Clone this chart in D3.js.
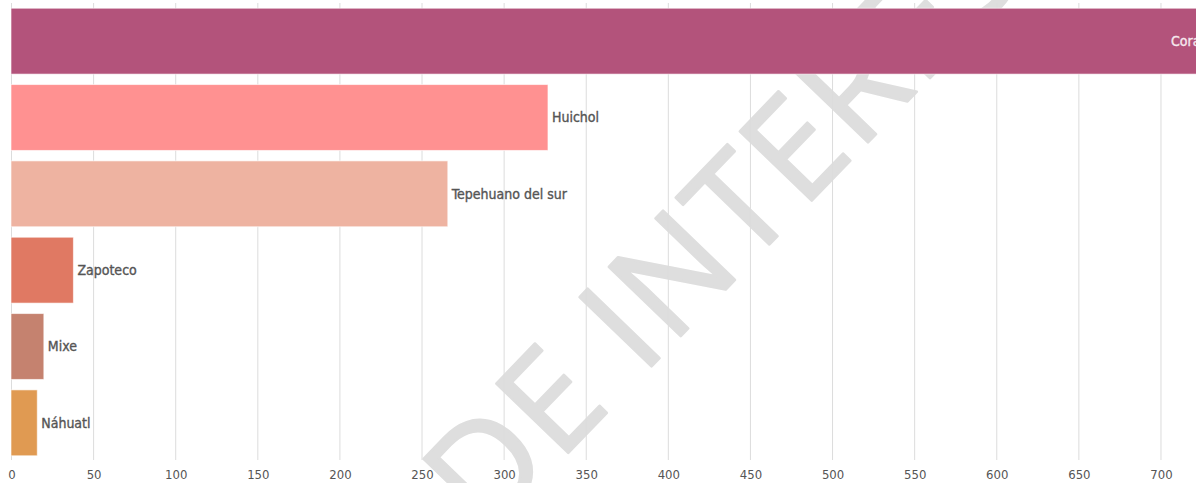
<!DOCTYPE html>
<html>
<head>
<meta charset="utf-8">
<script src="https://cdn.jsdelivr.net/npm/d3@7/dist/d3.min.js"></script>
<style>
  html, body { margin: 0; padding: 0; background: #ffffff; overflow: hidden; }
  svg { display: block; }
</style>
</head>
<body>
<svg id="chart" width="1196" height="483"></svg>
<script>
// ---- data ----
const categories = ["Cora", "Huichol", "Tepehuano del sur", "Zapoteco", "Mixe", "Náhuatl"];
const values = [728, 327, 266, 38, 20, 16];
const barColors = ["#b3537b", "#ff9191", "#eeb3a1", "#e07963", "#c5826f", "#e09a52"];
const tickValues = [0, 50, 100, 150, 200, 250, 300, 350, 400, 450, 500, 550, 600, 650, 700, 750];
const watermarkText = "DE INTERÉS";

// ---- layout ----
const W = 1196, H = 483;
const plot = { left: 11, top: 3, bottom: 461 };
const svg = d3.select("#chart");

const x = d3.scaleLinear().domain([0, 750]).range([plot.left, plot.left + 750 * 1.6421]);
const y = d3.scaleBand().domain(categories).range([plot.top, plot.bottom])
  .paddingInner(0.137).paddingOuter(0.0685);

const font = "'DejaVu Sans Condensed', 'Liberation Sans Narrow', sans-serif";

// watermark (behind everything)
svg.append("text")
  .attr("transform", "translate(486,538) rotate(-46)")
  .attr("font-family", "'Open Sans', 'DejaVu Sans', sans-serif")
  .attr("font-weight", 400)
  .attr("font-size", 140)
  .attr("letter-spacing", 3)
  .attr("fill", "#dedede")
  .attr("stroke", "#dedede")
  .attr("stroke-width", 2.5)
  .attr("stroke-linejoin", "round")
  .text(watermarkText);

// gridlines
svg.append("g").selectAll("line").data(tickValues).join("line")
  .attr("x1", d => x(d) + 0.5).attr("x2", d => x(d) + 0.5)
  .attr("y1", plot.top).attr("y2", plot.bottom - 1)
  .attr("stroke", "#dcdcdc").attr("stroke-width", 1);

// bars
svg.append("g").selectAll("rect").data(categories).join("rect")
  .attr("x", x(0))
  .attr("y", d => y(d))
  .attr("width", (d, i) => x(values[i]) - x(0))
  .attr("height", y.bandwidth())
  .attr("fill", (d, i) => barColors[i])
  .attr("stroke", "#ffffff").attr("stroke-width", 1).attr("stroke-opacity", 0.6);

// labels
svg.append("g").selectAll("text").data(categories).join("text")
  .attr("x", (d, i) => i === 0 ? x(values[i]) - 6 : x(values[i]) + 4)
  .attr("y", d => y(d) + y.bandwidth() / 2)
  .attr("dy", "0.35em")
  .attr("text-anchor", (d, i) => i === 0 ? "end" : "start")
  .attr("font-family", font)
  .attr("font-size", 14)
  .attr("font-weight", 400)
  .attr("fill", (d, i) => i === 0 ? "#f6e8ee" : "#555555")
  .attr("stroke", (d, i) => i === 0 ? "#f6e8ee" : "#555555")
  .attr("stroke-width", 0.35)
  .text(d => d);

// x axis
const axis = d3.axisBottom(x).tickValues(tickValues).tickSize(0).tickPadding(0).tickFormat(d3.format("d"));
const gAxis = svg.append("g").attr("transform", `translate(0.5,${plot.bottom})`).call(axis);
gAxis.select(".domain").remove();
gAxis.selectAll("text")
  .attr("y", 18)
  .attr("dy", 0)
  .attr("font-family", font)
  .attr("font-size", 13)
  .attr("fill", "#555555");
</script>
</body>
</html>
